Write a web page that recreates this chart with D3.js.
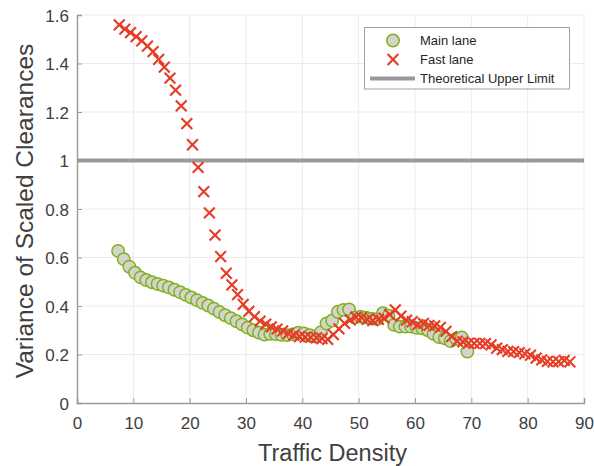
<!DOCTYPE html>
<html>
<head>
<meta charset="utf-8">
<script src="https://cdn.jsdelivr.net/npm/d3@7"></script>
<style>
  html, body { margin: 0; padding: 0; background: #fff; }
  svg { display: block; font-family: "Liberation Sans", Arial, Helvetica, sans-serif; }
</style>
</head>
<body>
<svg id="chart" width="594" height="466"></svg>
<script>
// Main lane: traffic density vs. variance of scaled clearances
const mainX = [7.3, 8.3, 9.3, 10.3, 11.3, 12.3, 13.3, 14.3, 15.3, 16.3,
  17.3, 18.3, 19.3, 20.3, 21.3, 22.3, 23.3, 24.3, 25.3, 26.3,
  27.3, 28.3, 29.3, 30.3, 31.3, 32.3, 33.3, 34.3, 35.3, 36.3,
  37.3, 38.3, 39.3, 40.3, 41.3, 42.3, 43.3, 44.3, 45.3, 46.3,
  47.3, 48.3, 49.3, 50.3, 51.3, 52.3, 53.3, 54.3, 55.3, 56.3,
  57.3, 58.3, 59.3, 60.3, 61.3, 62.3, 63.3, 64.3, 65.3, 66.3,
  67.3, 68.3, 69.3];
const mainY = [0.627, 0.593, 0.562, 0.537, 0.518, 0.507, 0.498, 0.491, 0.484, 0.477,
  0.467, 0.457, 0.446, 0.435, 0.424, 0.413, 0.402, 0.389, 0.375, 0.362,
  0.350, 0.337, 0.324, 0.311, 0.300, 0.290, 0.282, 0.285, 0.284, 0.281,
  0.280, 0.283, 0.290, 0.287, 0.280, 0.274, 0.292, 0.328, 0.340, 0.376,
  0.384, 0.386, 0.352, 0.356, 0.352, 0.348, 0.346, 0.370, 0.360, 0.322,
  0.315, 0.315, 0.315, 0.310, 0.308, 0.300, 0.285, 0.272, 0.267, 0.255,
  0.265, 0.270, 0.212];

// Fast lane
const fastX = [7.5, 8.5, 9.5, 10.5, 11.5, 12.5, 13.5, 14.5, 15.5, 16.5,
  17.5, 18.5, 19.5, 20.5, 21.5, 22.5, 23.5, 24.5, 25.5, 26.5,
  27.5, 28.5, 29.5, 30.5, 31.5, 32.5, 33.5, 34.5, 35.5, 36.5,
  37.5, 38.5, 39.5, 40.5, 41.5, 42.5, 43.5, 44.5, 45.5, 46.5,
  47.5, 48.5, 49.5, 50.5, 51.5, 52.5, 53.5, 54.5, 55.5, 56.5,
  57.5, 58.5, 59.5, 60.5, 61.5, 62.5, 63.5, 64.5, 65.5, 66.5,
  67.5, 68.5, 69.5, 70.5, 71.5, 72.5, 73.5, 74.5, 75.5, 76.5,
  77.5, 78.5, 79.5, 80.5, 81.5, 82.5, 83.5, 84.5, 85.5, 86.5, 87.5];
const fastY = [1.559, 1.542, 1.527, 1.511, 1.493, 1.472, 1.449, 1.417, 1.385, 1.340,
  1.290, 1.225, 1.152, 1.065, 0.972, 0.872, 0.784, 0.692, 0.604, 0.535,
  0.487, 0.447, 0.407, 0.378, 0.356, 0.338, 0.325, 0.314, 0.305, 0.297,
  0.287, 0.280, 0.274, 0.272, 0.271, 0.269, 0.266, 0.262, 0.282, 0.306,
  0.328, 0.343, 0.354, 0.352, 0.345, 0.340, 0.345, 0.350, 0.365, 0.384,
  0.358, 0.342, 0.335, 0.323, 0.328, 0.320, 0.318, 0.312, 0.295, 0.274,
  0.255, 0.252, 0.247, 0.246, 0.246, 0.245, 0.240, 0.226, 0.220, 0.213,
  0.212, 0.208, 0.203, 0.197, 0.185, 0.178, 0.172, 0.170, 0.171, 0.176, 0.170];

// Theoretical upper limit
const upperLimit = 1;

const xTicks = [0, 10, 20, 30, 40, 50, 60, 70, 80, 90];
const yTicks = [0, 0.2, 0.4, 0.6, 0.8, 1, 1.2, 1.4, 1.6];
const legendLabels = ["Main lane", "Fast lane", "Theoretical Upper Limit"];

const svg = d3.select("#chart");

const x = d3.scaleLinear().domain([0, 90]).range([77, 584]);
const y = d3.scaleLinear().domain([0, 1.6]).range([403, 15]);

const axisColor = "#9b9b9b";
const textColor = "#404040";
const gridColor = "#ebebeb";

// grid
const grid = svg.append("g");
grid.selectAll("line.vx").data(xTicks.slice(1)).join("line")
  .attr("x1", d => x(d)).attr("x2", d => x(d))
  .attr("y1", y(0)).attr("y2", y(1.6))
  .attr("stroke", gridColor).attr("stroke-width", 1);
grid.selectAll("line.hy").data(yTicks.slice(1)).join("line")
  .attr("x1", x(0)).attr("x2", x(90))
  .attr("y1", d => y(d)).attr("y2", d => y(d))
  .attr("stroke", gridColor).attr("stroke-width", 1);

// axes
const xAxis = d3.axisBottom(x).tickValues(xTicks).tickSize(-5).tickPadding(14)
  .tickFormat(d3.format("d"));
const yAxis = d3.axisLeft(y).tickValues(yTicks).tickSize(-5).tickPadding(8)
  .tickFormat(d => d === 0 ? "0" : d === 1 ? "1" : d3.format(".1f")(d));

const gx = svg.append("g").attr("transform", `translate(0,${y(0)})`).call(xAxis);
const gy = svg.append("g").attr("transform", `translate(${x(0)},0)`).call(yAxis);
[gx, gy].forEach(g => {
  g.select(".domain").attr("stroke", axisColor).attr("stroke-width", 1.5);
  g.selectAll(".tick line").attr("stroke", axisColor).attr("stroke-width", 1);
  g.selectAll(".tick text").attr("fill", textColor)
    .style("font-size", "17px").style("font-family", "Liberation Sans, Arial, sans-serif");
});
gy.selectAll(".tick text").attr("dy", "0.36em");

// theoretical upper limit line
svg.append("line")
  .attr("x1", x(0)).attr("x2", x(90))
  .attr("y1", y(upperLimit)).attr("y2", y(upperLimit))
  .attr("stroke", "#999999").attr("stroke-width", 4);

const green = "#7db31c";
const circleFill = "#d4d4cc";
const red = "#e63b24";

// main lane circles
const mainData = mainX.map((d, i) => ({ x: d, y: mainY[i] }));
svg.append("g").selectAll("circle").data(mainData).join("circle")
  .attr("cx", d => x(d.x)).attr("cy", d => y(d.y)).attr("r", 6.2)
  .attr("fill", circleFill).attr("stroke", green).attr("stroke-width", 1.5);

// fast lane crosses
const xs = 5.4;
const crossPath = d => {
  const cx = x(d.x), cy = y(d.y);
  return `M${cx - xs},${cy - xs}L${cx + xs},${cy + xs}M${cx - xs},${cy + xs}L${cx + xs},${cy - xs}`;
};
const fastData = fastX.map((d, i) => ({ x: d, y: fastY[i] }));
svg.append("g").selectAll("path").data(fastData).join("path")
  .attr("d", crossPath)
  .attr("stroke", red).attr("stroke-width", 2.1).attr("fill", "none");

// axis titles
svg.append("text")
  .attr("x", (x(0) + x(90)) / 2 + 2).attr("y", 461)
  .attr("text-anchor", "middle")
  .attr("fill", textColor).style("font-size", "23.5px")
  .text("Traffic Density");
svg.append("text")
  .attr("transform", `translate(33,${(y(0) + y(1.6)) / 2 + 2}) rotate(-90)`)
  .attr("text-anchor", "middle")
  .attr("fill", textColor).style("font-size", "24.5px")
  .text("Variance of Scaled Clearances");

// legend
const lg = svg.append("g");
lg.append("rect").attr("x", 364.5).attr("y", 27.5).attr("width", 205).attr("height", 61.5)
  .attr("fill", "#fff").attr("stroke", "#a0a0a0").attr("stroke-width", 1);
const rowY = [40.5, 59.5, 78.5];
lg.append("circle").attr("cx", 393).attr("cy", rowY[0]).attr("r", 6.2)
  .attr("fill", circleFill).attr("stroke", green).attr("stroke-width", 1.5);
lg.append("path")
  .attr("d", `M${393 - xs},${rowY[1] - xs}L${393 + xs},${rowY[1] + xs}M${393 - xs},${rowY[1] + xs}L${393 + xs},${rowY[1] - xs}`)
  .attr("stroke", red).attr("stroke-width", 2.1).attr("fill", "none");
lg.append("line").attr("x1", 370).attr("x2", 415).attr("y1", rowY[2]).attr("y2", rowY[2])
  .attr("stroke", "#999999").attr("stroke-width", 4);
lg.selectAll("text").data(legendLabels).join("text")
  .attr("x", 420).attr("y", (d, i) => rowY[i])
  .attr("dy", "0.35em")
  .attr("fill", "#262626").style("font-size", "13px")
  .text(d => d);
</script>
</body>
</html>
